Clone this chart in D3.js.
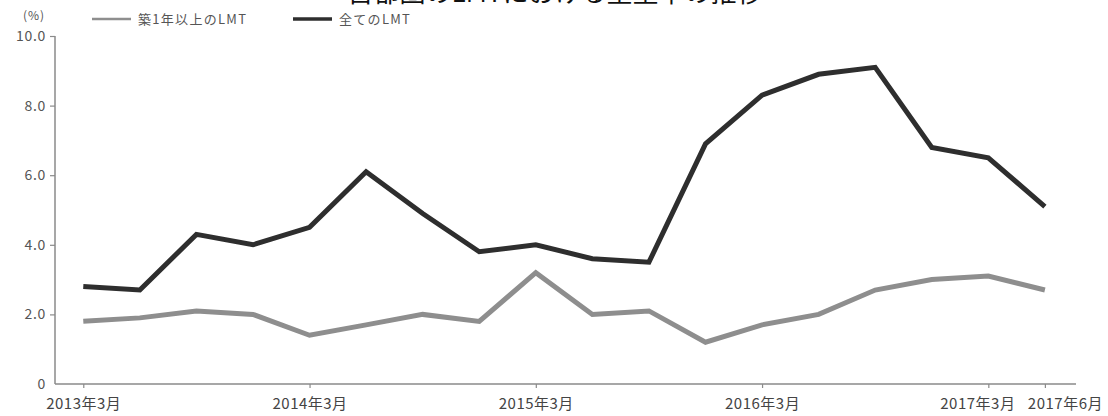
<!DOCTYPE html>
<html><head><meta charset="utf-8">
<script src="https://cdn.jsdelivr.net/npm/d3@7"></script>
<style>
body{margin:0;background:#fff;}
svg{display:block;font-family:"Noto Sans CJK JP","Noto Sans",sans-serif;}
</style></head>
<body><svg id="c" width="1108" height="416"></svg>
<script>
const title = "首都圏のLMTにおける空室率の推移";
const quarters = ["2013年3月","2013年6月","2013年9月","2013年12月","2014年3月","2014年6月","2014年9月","2014年12月","2015年3月","2015年6月","2015年9月","2015年12月","2016年3月","2016年6月","2016年9月","2016年12月","2017年3月","2017年6月"];
const tickLabels = ["2013年3月","2014年3月","2015年3月","2016年3月","2017年3月","2017年6月"];
const yTicks = [0,2,4,6,8,10];
const seriesNames = ["築1年以上のLMT","全てのLMT"];
const over1yr = [1.8,1.9,2.1,2.0,1.4,1.7,2.0,1.8,3.2,2.0,2.1,1.2,1.7,2.0,2.7,3.0,3.1,2.7];
const allLMT = [2.8,2.7,4.3,4.0,4.5,6.1,4.9,3.8,4.0,3.6,3.5,6.9,8.3,8.9,9.1,6.8,6.5,5.1];
const colors = ["#8e8e8e","#2e2e2e"];

const svg = d3.select("#c");
const x = d3.scaleLinear().domain([-0.5, 17.55]).range([55, 1076]);
const y = d3.scaleLinear().domain([0, 10]).range([384, 36]);

svg.append("text").attr("x", 555).attr("y", 2).attr("text-anchor","middle")
  .attr("font-size", 26).attr("fill","#111").text(title);

// y axis
const ya = svg.append("g").attr("transform","translate(55,0)")
  .call(d3.axisLeft(y).tickValues(yTicks).tickSize(5).tickPadding(4)
    .tickFormat(d => d === 0 ? "0" : d3.format(".1f")(d)));
ya.select(".domain").attr("stroke","#8a8a8a").attr("stroke-width",1.5).attr("d","M0,384V36");
ya.selectAll(".tick line").attr("stroke","#8a8a8a").attr("stroke-width",1.2)
  .attr("x2", d => d === 0 ? 0 : -5);
ya.selectAll(".tick text").attr("fill","#555").attr("font-size",14)
  .attr("letter-spacing", 0.7)
  .attr("font-family","'Noto Sans CJK JP',sans-serif");

// x axis
const xa = svg.append("g").attr("transform","translate(0,384)")
  .call(d3.axisBottom(x).tickValues(tickLabels.map(t => quarters.indexOf(t)))
    .tickSize(4).tickPadding(10).tickFormat(i => quarters[i]));
xa.select(".domain").attr("stroke","#8a8a8a").attr("stroke-width",1.5).attr("d","M55,0H1076");
xa.selectAll(".tick line").attr("stroke","#8a8a8a").attr("stroke-width",1.2);
xa.selectAll(".tick text").attr("fill","#444").attr("font-size",15)
  .attr("letter-spacing", 0.5)
  .attr("font-family","'Noto Sans CJK JP',sans-serif")
  .attr("dx", i => i === 16 ? -11 : (i === 17 ? 20 : 0));

svg.append("text").attr("x", 34).attr("y", 20).attr("text-anchor","middle")
  .attr("font-size", 12).attr("letter-spacing", 1).attr("fill","#555").text("(%)");

// lines
const line = d3.line().x((d,i) => x(i)).y(d => y(d));
[over1yr, allLMT].forEach((s, k) => {
  svg.append("path").datum(s).attr("d", line).attr("fill","none")
    .attr("stroke", colors[k]).attr("stroke-width", 5)
    .attr("stroke-linejoin","miter");
});

// legend
const legX = [92, 293];
seriesNames.forEach((n, k) => {
  svg.append("line").attr("x1", legX[k]).attr("x2", legX[k] + 39)
    .attr("y1", 19).attr("y2", 19).attr("stroke", colors[k]).attr("stroke-width", k === 0 ? 2.5 : 3.5);
  svg.append("text").attr("x", legX[k] + 46).attr("y", 24)
    .attr("font-size", 13).attr("letter-spacing", 1.3).attr("fill","#555").text(n);
});
</script></body></html>
